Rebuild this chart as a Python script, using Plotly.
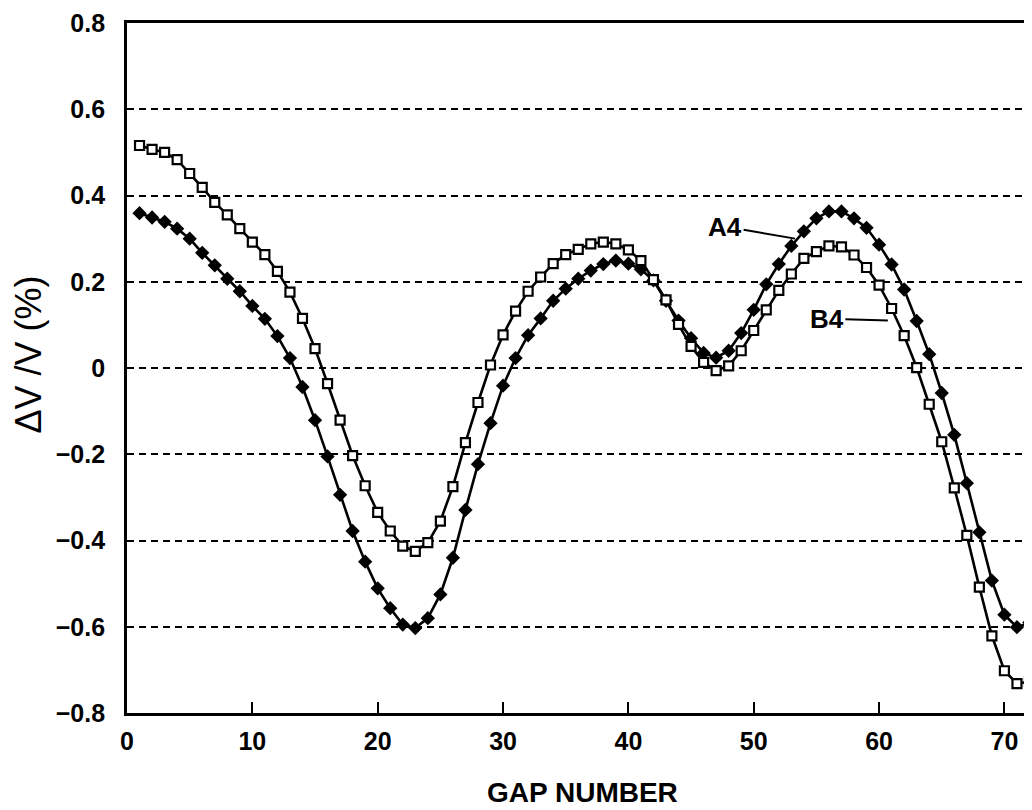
import plotly.graph_objects as go

gap = list(range(1, 73))

a4 = [0.359, 0.349, 0.339, 0.323, 0.300, 0.267, 0.238, 0.207, 0.178, 0.144,
      0.114, 0.074, 0.023, -0.044, -0.121, -0.205, -0.294, -0.378, -0.449, -0.511,
      -0.557, -0.595, -0.603, -0.580, -0.525, -0.440, -0.329, -0.223, -0.128, -0.041,
      0.023, 0.076, 0.115, 0.156, 0.184, 0.207, 0.226, 0.241, 0.249, 0.242,
      0.229, 0.203, 0.156, 0.110, 0.069, 0.035, 0.024, 0.040, 0.081, 0.135,
      0.194, 0.241, 0.283, 0.317, 0.347, 0.363, 0.363, 0.347, 0.325, 0.286,
      0.240, 0.182, 0.109, 0.032, -0.058, -0.155, -0.267, -0.381, -0.493, -0.572,
      -0.601, -0.590]

b4 = [0.516, 0.507, 0.500, 0.483, 0.451, 0.419, 0.384, 0.355, 0.323, 0.292,
      0.263, 0.224, 0.176, 0.115, 0.045, -0.036, -0.121, -0.203, -0.273, -0.335,
      -0.378, -0.413, -0.425, -0.405, -0.355, -0.275, -0.173, -0.080, 0.007, 0.077,
      0.132, 0.178, 0.211, 0.242, 0.263, 0.275, 0.288, 0.292, 0.288, 0.274,
      0.249, 0.205, 0.158, 0.101, 0.050, 0.013, -0.006, 0.005, 0.040, 0.087,
      0.135, 0.180, 0.218, 0.254, 0.270, 0.283, 0.281, 0.262, 0.233, 0.192,
      0.138, 0.075, 0.001, -0.084, -0.171, -0.278, -0.388, -0.508, -0.621, -0.702,
      -0.732, -0.727]

x_ticks = [0, 10, 20, 30, 40, 50, 60, 70]
y_ticks = [-0.8, -0.6, -0.4, -0.2, 0, 0.2, 0.4, 0.6, 0.8]
y_tick_text = ["\u22120.8", "\u22120.6", "\u22120.4", "\u22120.2", "0", "0.2", "0.4", "0.6", "0.8"]

FONT = "Liberation Sans, Arial, sans-serif"

fig = go.Figure()
fig.add_trace(go.Scatter(
    x=gap, y=a4, mode="lines+markers", name="A4",
    line=dict(color="black", width=2.6),
    marker=dict(symbol="diamond", size=11, color="black"),
))
fig.add_trace(go.Scatter(
    x=gap, y=b4, mode="lines+markers", name="B4",
    line=dict(color="black", width=2.6),
    marker=dict(symbol="square", size=9, color="white",
                line=dict(color="black", width=2.2)),
))

fig.add_annotation(x=53.3, y=0.30, text="A4", showarrow=True,
                   arrowhead=0, arrowwidth=2, arrowcolor="black",
                   ax=-70, ay=-12,
                   font=dict(family=FONT, size=26, color="black", weight="bold"))
fig.add_annotation(x=60.7, y=0.11, text="B4", showarrow=True,
                   arrowhead=0, arrowwidth=2, arrowcolor="black",
                   ax=-61, ay=-2,
                   font=dict(family=FONT, size=26, color="black", weight="bold"))

fig.add_annotation(xref="paper", yref="paper", x=-0.109, y=0.52,
                   xanchor="center", yanchor="middle",
                   text="\u0394V /V (%)", showarrow=False, textangle=-90,
                   font=dict(family=FONT, size=36, color="black"))
fig.add_annotation(xref="paper", yref="paper", x=0.503, y=-0.115,
                   xanchor="center", yanchor="middle", text="GAP NUMBER", showarrow=False,
                   font=dict(family=FONT, size=28, color="black", weight="bold"))

# page body adds an 8px offset; compensate so the plot box lands where the reference has it
fig.update_layout(
    width=1024, height=802,
    margin=dict(l=119, r=0, t=15, b=97),
    paper_bgcolor="white", plot_bgcolor="white",
    showlegend=False,
)
fig.update_xaxes(
    range=[0, 72.2], tickvals=x_ticks, ticks="inside", ticklen=11, tickwidth=2.2,
    tickcolor="black", showgrid=False, zeroline=False,
    showline=True, linecolor="black", linewidth=2.8, mirror=True,
    tickfont=dict(family=FONT, size=25, color="black", weight="bold"),
    ticklabelstandoff=4, automargin=False, ticklabeloverflow="allow",
)
fig.update_yaxes(
    range=[-0.8, 0.8], tickvals=y_ticks, ticktext=y_tick_text,
    showgrid=True, gridcolor="black", gridwidth=2.2, griddash="7px,5px",
    zeroline=False, showline=True, linecolor="black", linewidth=2.8,
    ticks="", tickfont=dict(family=FONT, size=25, color="black", weight="bold"),
    ticklabelstandoff=14, automargin=False, ticklabeloverflow="allow",
)

fig.write_html("out.html")
